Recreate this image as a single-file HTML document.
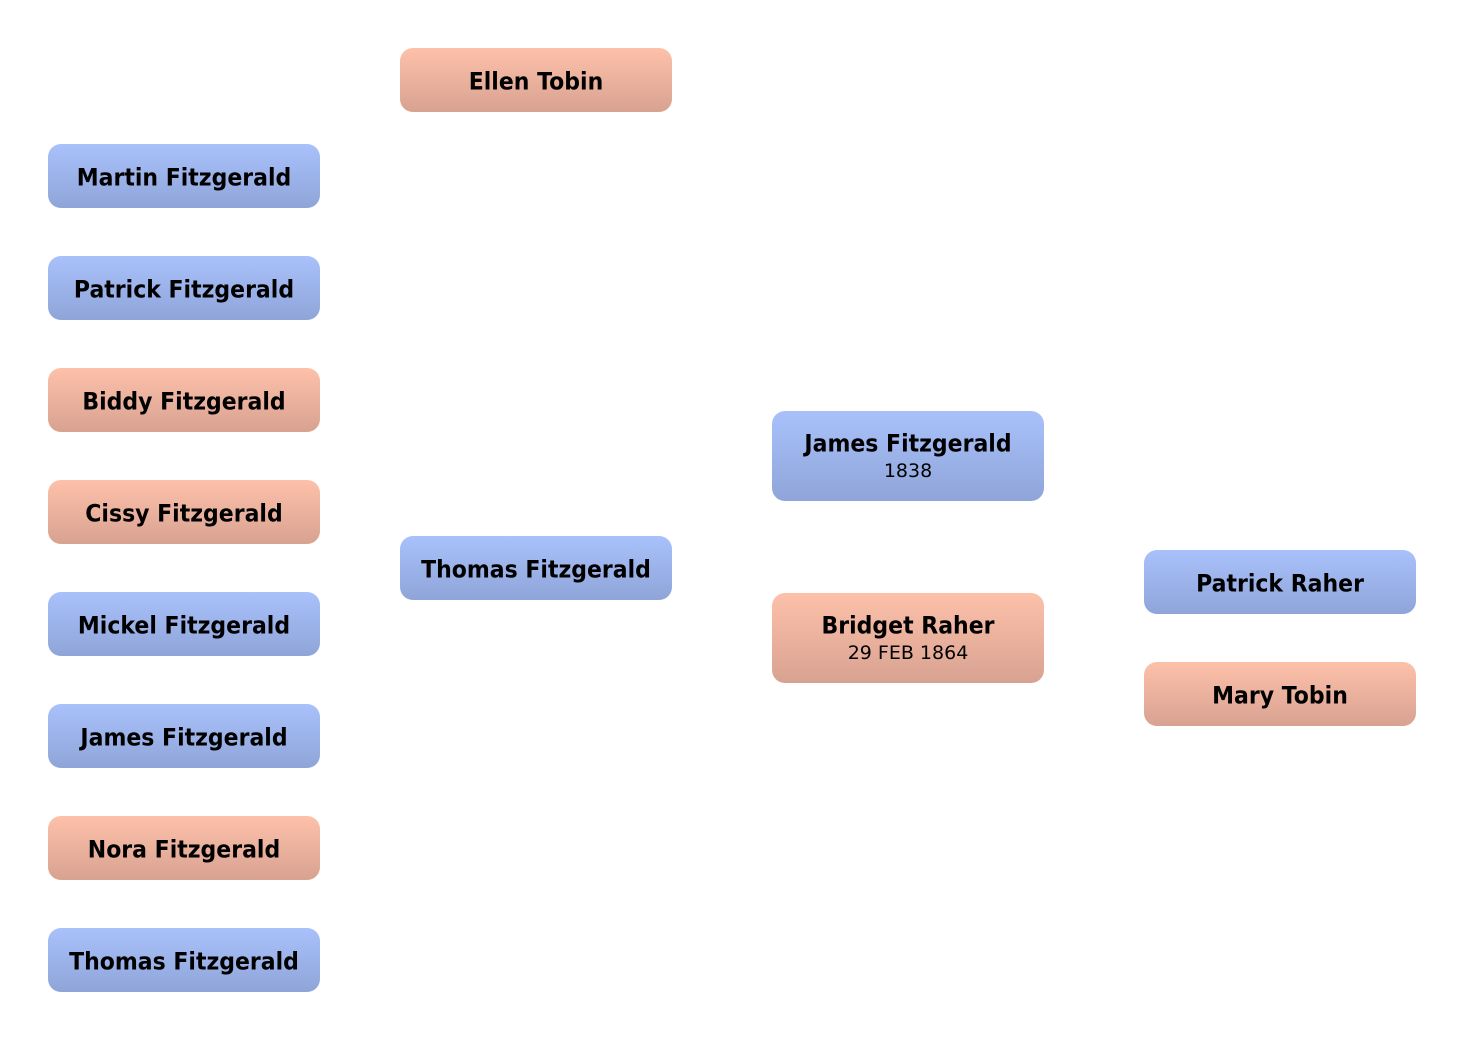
<!DOCTYPE html>
<html>
<head>
<meta charset="utf-8">
<style>
html,body{margin:0;padding:0;background:#fff;}
body{width:1464px;height:1040px;position:relative;overflow:hidden;font-family:"DejaVu Sans","Liberation Sans",sans-serif;}
.b{position:absolute;width:272px;height:64px;border-radius:13px;text-align:center;color:#000;}
.m{background:linear-gradient(to bottom,#a9c1fb 0%,#8fa5d9 100%);}
.f{background:linear-gradient(to bottom,#fdc1aa 0%,#d8a291 100%);}
.b .t{position:absolute;left:0;right:0;top:3px;line-height:64px;font-size:22px;font-weight:bold;white-space:nowrap;transform:scaleY(1.1);transform-origin:50% 50%;}
.b2{height:90px;}
.b2 .t1{position:absolute;left:0;right:0;top:21px;line-height:26px;font-size:22px;font-weight:bold;white-space:nowrap;transform:scaleY(1.1);transform-origin:50% 50%;}
.b2 .t2{position:absolute;left:0;right:0;top:49px;line-height:22px;font-size:19px;white-space:nowrap;}
</style>
</head>
<body>
<div class="b f" style="left:400px;top:48px;"><div class="t">Ellen Tobin</div></div>

<div class="b m" style="left:48px;top:144px;"><div class="t">Martin Fitzgerald</div></div>
<div class="b m" style="left:48px;top:256px;"><div class="t">Patrick Fitzgerald</div></div>
<div class="b f" style="left:48px;top:368px;"><div class="t">Biddy Fitzgerald</div></div>
<div class="b f" style="left:48px;top:480px;"><div class="t">Cissy Fitzgerald</div></div>
<div class="b m" style="left:48px;top:592px;"><div class="t">Mickel Fitzgerald</div></div>
<div class="b m" style="left:48px;top:704px;"><div class="t">James Fitzgerald</div></div>
<div class="b f" style="left:48px;top:816px;"><div class="t">Nora Fitzgerald</div></div>
<div class="b m" style="left:48px;top:928px;"><div class="t">Thomas Fitzgerald</div></div>

<div class="b m" style="left:400px;top:536px;"><div class="t">Thomas Fitzgerald</div></div>

<div class="b b2 m" style="left:772px;top:411px;"><div class="t1">James Fitzgerald</div><div class="t2">1838</div></div>
<div class="b b2 f" style="left:772px;top:593px;"><div class="t1">Bridget Raher</div><div class="t2">29 FEB 1864</div></div>

<div class="b m" style="left:1144px;top:550px;"><div class="t">Patrick Raher</div></div>
<div class="b f" style="left:1144px;top:662px;"><div class="t">Mary Tobin</div></div>
</body>
</html>
